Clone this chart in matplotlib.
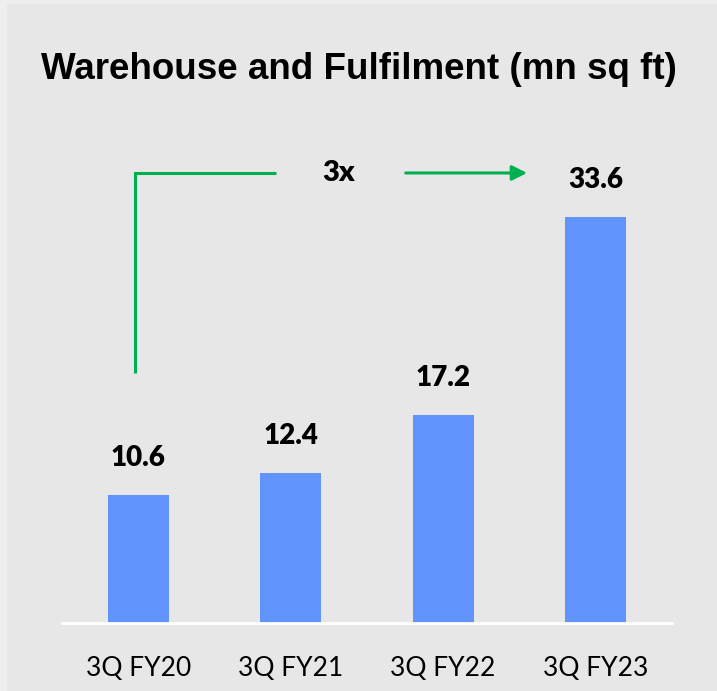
import matplotlib.pyplot as plt
import numpy as np

quarters = ['3Q FY20', '3Q FY21', '3Q FY22', '3Q FY23']
area = [10.6, 12.4, 17.2, 33.6]
growth_label = '3x'

bg = '#e7e7e7'
bar_color = '#6094fc'
green = '#00b050'

fig = plt.figure(figsize=(7.17, 6.91), dpi=100, facecolor=bg)
# thin lighter strip at top/left edge like the source
fig.patches.append(plt.Rectangle((0, 0), 0.008, 1, transform=fig.transFigure, color='#eeeeee', zorder=0))
fig.patches.append(plt.Rectangle((0, 0.996), 1, 0.004, transform=fig.transFigure, color='#eeeeee', zorder=0))

ax = fig.add_axes([0.0865, 0.0984, 0.8505, 0.6845])
ax.set_facecolor(bg)

x = np.arange(len(quarters))
ax.bar(x, area, width=0.4, color=bar_color, zorder=2)
for xi, v in zip(x, area):
    ax.text(xi, v + 2.0, f'{v}', ha='center', va='bottom', fontsize=20,
            fontweight='heavy', family='Lato', color='black')

ax.set_xlim(-0.5, 3.5)
ax.set_ylim(0, 39.15)
ax.set_xticks(x)
ax.set_xticklabels(quarters, fontsize=19, family='Lato', color='black')
ax.tick_params(axis='x', length=0, pad=24)
ax.set_yticks([])
for s in ['top', 'left', 'right']:
    ax.spines[s].set_visible(False)
ax.spines['bottom'].set_color('white')
ax.spines['bottom'].set_linewidth(2)

# growth arrow
y_arrow = 37.25
ax.plot([-0.021, -0.021, 0.903], [20.7, y_arrow, y_arrow], color=green, lw=2.2,
        solid_capstyle='butt', solid_joinstyle='miter', clip_on=False)
ax.annotate('', xy=(2.569, y_arrow), xytext=(1.736, y_arrow),
            arrowprops=dict(arrowstyle='-|>,head_length=0.9,head_width=0.45',
                            color=green, lw=2.2), annotation_clip=False)
ax.text(1.316, y_arrow, growth_label, ha='center', va='center', fontsize=21,
        fontweight='heavy', family='Lato')

fig.text(0.5, 0.899, 'Warehouse and Fulfilment (mn sq ft)', ha='center', va='center',
         fontsize=26.5, fontweight='bold', family='Liberation Sans')

fig.savefig('out.png', dpi=100, facecolor=bg)
